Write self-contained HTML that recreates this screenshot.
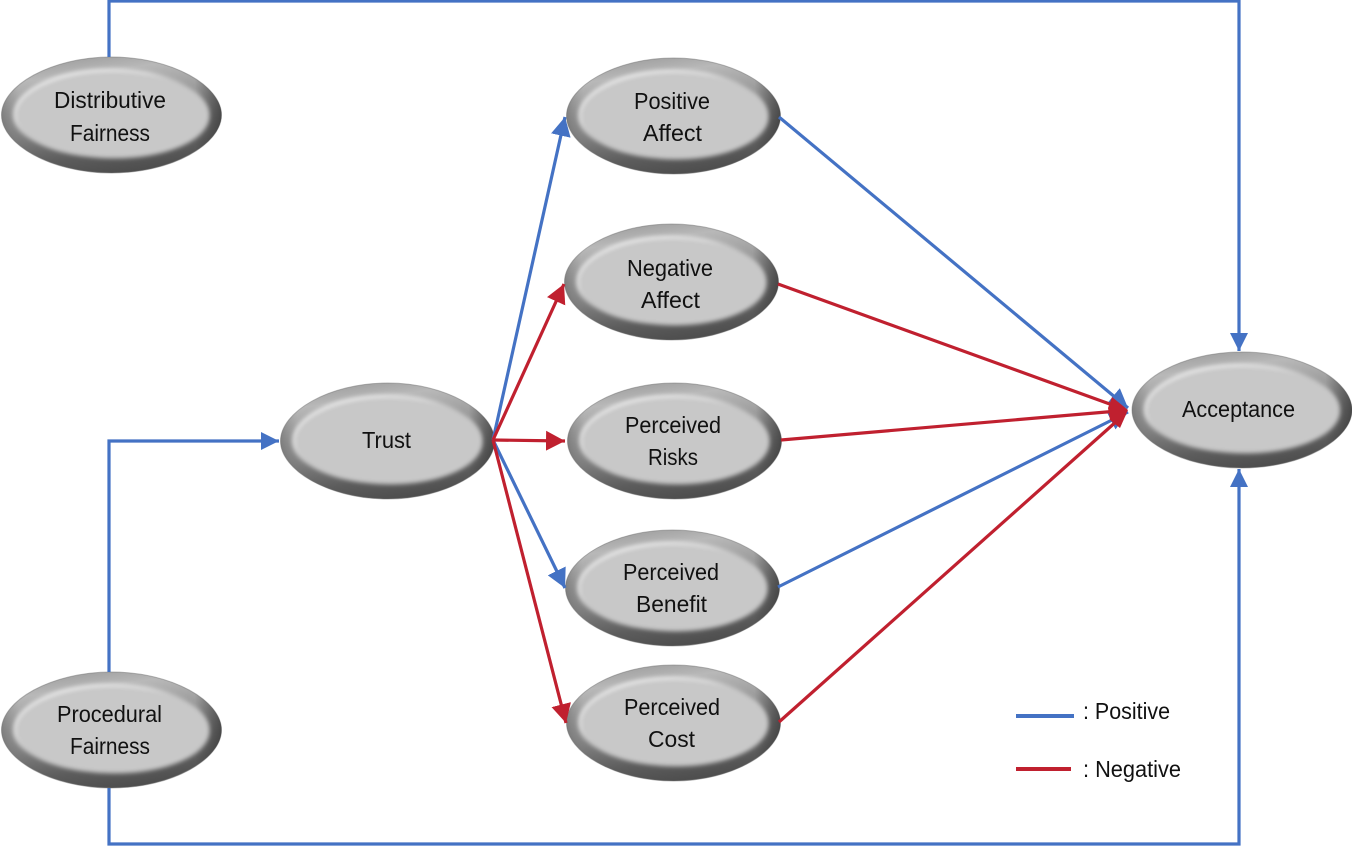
<!DOCTYPE html>
<html>
<head>
<meta charset="utf-8">
<style>
html,body{margin:0;padding:0;background:#fff;width:1352px;height:846px;overflow:hidden}
svg{display:block}
text{font-family:"Liberation Sans",sans-serif;font-size:23px;fill:#111;text-anchor:middle}
</style>
</head>
<body>
<svg width="1352" height="846" viewBox="0 0 1352 846" xmlns="http://www.w3.org/2000/svg">
<defs>
<linearGradient id="rim" x1="0.35" y1="0" x2="0.6" y2="1">
<stop offset="0" stop-color="#a0a0a0"/>
<stop offset="0.14" stop-color="#b8b8b8"/>
<stop offset="0.5" stop-color="#8c8c8c"/>
<stop offset="0.82" stop-color="#5c5c5c"/>
<stop offset="1" stop-color="#4c4c4c"/>
</linearGradient>
<linearGradient id="side" x1="0" y1="0" x2="1" y2="0">
<stop offset="0" stop-color="#555" stop-opacity="0.4"/>
<stop offset="0.08" stop-color="#777" stop-opacity="0"/>
<stop offset="0.88" stop-color="#333" stop-opacity="0"/>
<stop offset="1" stop-color="#333" stop-opacity="0.7"/>
</linearGradient>
<linearGradient id="hl" x1="0.1" y1="0" x2="0.9" y2="1">
<stop offset="0" stop-color="#fff"/>
<stop offset="0.3" stop-color="#eee" stop-opacity="0.8"/>
<stop offset="0.5" stop-color="#ccc" stop-opacity="0"/>
<stop offset="0.75" stop-color="#ccc" stop-opacity="0"/>
<stop offset="1" stop-color="#f0f0f0" stop-opacity="0.9"/>
</linearGradient>
<filter id="soft" x="-10%" y="-15%" width="120%" height="130%"><feGaussianBlur stdDeviation="2"/></filter>
<marker id="ab" markerUnits="userSpaceOnUse" markerWidth="24" markerHeight="24" refX="19" refY="12" orient="auto"><path d="M0 2L19 12L0 22Z" fill="#4472c4"/></marker>
<marker id="ar" markerUnits="userSpaceOnUse" markerWidth="24" markerHeight="24" refX="19" refY="12" orient="auto"><path d="M0 2L19 12L0 22Z" fill="#c0202f"/></marker>
<marker id="fb" markerUnits="userSpaceOnUse" markerWidth="22" markerHeight="22" refX="18" refY="11" orient="auto"><path d="M0 2L18 11L0 20Z" fill="#4472c4"/></marker>
<g id="n">
<path d="M-107 0C-107-29-59-58 0-58C59-58 107-29 107 0C107 29 59 58 0 58C-59 58-107 29-107 0Z" fill="url(#rim)" stroke="#777" stroke-opacity=".5"/>
<path d="M-107 0C-107-29-59-58 0-58C59-58 107-29 107 0C107 29 59 58 0 58C-59 58-107 29-107 0Z" fill="url(#side)"/>
<path d="M-94 0C-94-24-52-45 0-45C52-45 95-24 95 0C95 24 52 43 0 43C-52 43-94 24-94 0Z" fill="#c8c8c8" stroke="url(#hl)" stroke-width="2.5" filter="url(#soft)"/>
</g>
<g id="w">
<path d="M-110 0C-110-29-61-58 0-58C61-58 110-29 110 0C110 29 61 58 0 58C-61 58-110 29-110 0Z" fill="url(#rim)" stroke="#777" stroke-opacity=".5"/>
<path d="M-110 0C-110-29-61-58 0-58C61-58 110-29 110 0C110 29 61 58 0 58C-61 58-110 29-110 0Z" fill="url(#side)"/>
<path d="M-97 0C-97-24-54-45 0-45C54-45 98-24 98 0C98 24 54 43 0 43C-54 43-97 24-97 0Z" fill="#c8c8c8" stroke="url(#hl)" stroke-width="2.5" filter="url(#soft)"/>
</g>
</defs>
<rect width="1352" height="846" fill="#fff"/>

<use href="#w" x="111.5" y="115"/>
<use href="#w" x="111.5" y="730"/>
<use href="#w" x="1242" y="410"/>
<use href="#n" x="673.5" y="116"/>
<use href="#n" x="671.5" y="282"/>
<use href="#n" x="674.5" y="441"/>
<use href="#n" x="672.5" y="588"/>
<use href="#n" x="673.5" y="723"/>
<use href="#n" x="387.5" y="441"/>

<g fill="none" stroke="#4472c4" stroke-width="3.2">
<path d="M109 57V1H1239V351" marker-end="url(#fb)"/>
<path d="M109 788V844H1239V469" marker-end="url(#fb)"/>
<path d="M109 672V441H279" marker-end="url(#fb)"/>
<path d="M493 440L565 117" marker-end="url(#ab)"/>
<path d="M493 440L565 588" marker-end="url(#ab)"/>
<path d="M779 117L1128 408" marker-end="url(#ab)"/>
<path d="M778 587L1128 412" marker-end="url(#ab)"/>
</g>
<g fill="none" stroke="#c0202f" stroke-width="3.2">
<path d="M493 440L564 284" marker-end="url(#ar)"/>
<path d="M493 440L565 441" marker-end="url(#ar)"/>
<path d="M493 440L566 723" marker-end="url(#ar)"/>
<path d="M778 284L1118 407"/>
<path d="M781 440L1118 411"/>
<path d="M779 722L1118 420"/>
</g>
<polygon points="1112,397 1128,410 1120,428 1110,420 1108,408" fill="#c0202f"/>

<text x="110" y="108" textLength="112" lengthAdjust="spacingAndGlyphs">Distributive</text>
<text x="110" y="141" textLength="80" lengthAdjust="spacingAndGlyphs">Fairness</text>
<text x="672" y="109" textLength="76" lengthAdjust="spacingAndGlyphs">Positive</text>
<text x="672.5" y="141" textLength="59" lengthAdjust="spacingAndGlyphs">Affect</text>
<text x="670" y="276" textLength="86" lengthAdjust="spacingAndGlyphs">Negative</text>
<text x="670.5" y="308" textLength="59" lengthAdjust="spacingAndGlyphs">Affect</text>
<text x="673" y="433" textLength="96" lengthAdjust="spacingAndGlyphs">Perceived</text>
<text x="673" y="465" textLength="50" lengthAdjust="spacingAndGlyphs">Risks</text>
<text x="671" y="580" textLength="96" lengthAdjust="spacingAndGlyphs">Perceived</text>
<text x="671.5" y="612" textLength="71" lengthAdjust="spacingAndGlyphs">Benefit</text>
<text x="672" y="715" textLength="96" lengthAdjust="spacingAndGlyphs">Perceived</text>
<text x="671.5" y="747" textLength="47" lengthAdjust="spacingAndGlyphs">Cost</text>
<text x="386.5" y="448" textLength="49" lengthAdjust="spacingAndGlyphs">Trust</text>
<text x="109.5" y="722" textLength="105" lengthAdjust="spacingAndGlyphs">Procedural</text>
<text x="110" y="754" textLength="80" lengthAdjust="spacingAndGlyphs">Fairness</text>
<text x="1238.5" y="417" textLength="113" lengthAdjust="spacingAndGlyphs">Acceptance</text>

<path d="M1016 716H1074" stroke="#4472c4" stroke-width="4" fill="none"/>
<path d="M1016 769H1071" stroke="#c0202f" stroke-width="4" fill="none"/>
<text x="1126.5" y="719" textLength="87" lengthAdjust="spacingAndGlyphs">: Positive</text>
<text x="1132" y="777" textLength="98" lengthAdjust="spacingAndGlyphs">: Negative</text>
</svg>
</body>
</html>
